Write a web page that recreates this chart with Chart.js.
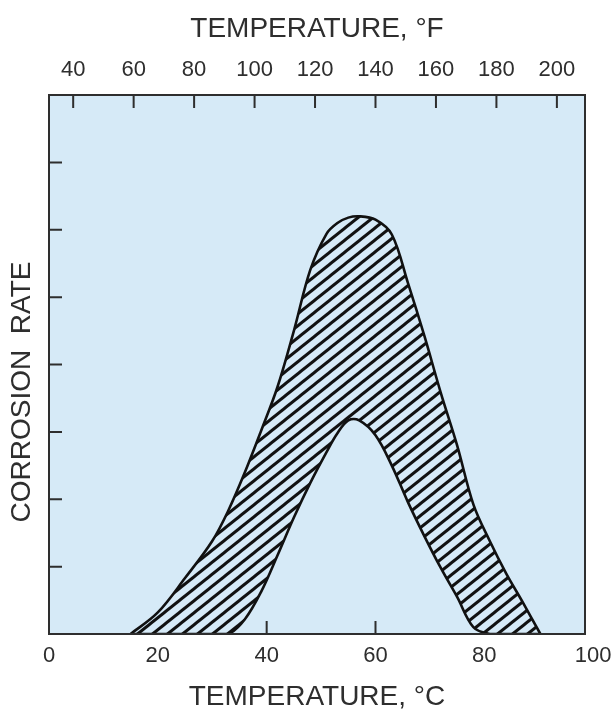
<!DOCTYPE html>
<html>
<head>
<meta charset="utf-8">
<script src="https://cdn.jsdelivr.net/npm/chart.js@4"></script>
<style>
  body { margin: 0; background: #fff; }
  canvas { display: block; }
</style>
</head>
<body>
<canvas id="chart" width="614" height="715"></canvas>
<script>
const tempC = [15, 20, 25, 30, 33, 36, 39, 42, 45, 48, 51, 53, 55, 57, 60, 63, 66, 69, 72, 75, 78, 81, 84, 87, 90.3];
// upper edge of the hatched band (relative corrosion rate, 0-8 divisions)
const upperRate = [0, 0.32, 0.83, 1.38, 1.84, 2.4, 3.02, 3.67, 4.5, 5.4, 5.94, 6.1, 6.18, 6.2, 6.15, 5.93, 5.2, 4.42, 3.58, 2.8, 1.92, 1.38, 0.9, 0.48, 0];
// lower edge of the band
const lowerRate = [0, 0, 0, 0, 0, 0.22, 0.63, 1.17, 1.73, 2.24, 2.7, 2.98, 3.17, 3.17, 2.95, 2.5, 1.95, 1.45, 0.98, 0.55, 0.1, 0, 0, 0, 0];

const cLabels = [0, 20, 40, 60, 80, 100];
const fLabels = [40, 60, 80, 100, 120, 140, 160, 180, 200];
const rateTicks = [1, 2, 3, 4, 5, 6, 7];

const BG = '#d6eaf7';
const INK = '#2e2e2e';
const LINE = '#111';
const FONT = 'Liberation Sans';
const C_MAX = 98.5;

function hatch() {
  const w = 15, h = 12;
  const c = document.createElement('canvas');
  c.width = w; c.height = h;
  const g = c.getContext('2d');
  g.fillStyle = BG;
  g.fillRect(0, 0, w, h);
  g.strokeStyle = LINE;
  g.lineWidth = 3;
  for (const dx of [-w, 0, w]) {
    g.beginPath();
    g.moveTo(dx - w, 2 * h);
    g.lineTo(dx + 2 * w, -h);
    g.stroke();
  }
  return g.createPattern(c, 'repeat');
}

const toPoints = (ys) => tempC.map((t, i) => ({ x: t, y: ys[i] }));

const plotFrame = {
  id: 'plotFrame',
  beforeDraw(chart) {
    const a = chart.chartArea, ctx = chart.ctx;
    ctx.save();
    ctx.fillStyle = BG;
    ctx.fillRect(a.left, a.top, a.right - a.left, a.bottom - a.top);
    ctx.restore();
  },
  beforeDatasetsDraw(chart) {
    const a = chart.chartArea, ctx = chart.ctx, s = chart.scales;
    const len = 13;
    ctx.save();
    ctx.strokeStyle = INK;
    ctx.lineWidth = 2;
    ctx.beginPath();
    rateTicks.forEach(v => {
      const y = s.y.getPixelForValue(v);
      ctx.moveTo(a.left, y); ctx.lineTo(a.left + len, y);
    });
    fLabels.forEach(v => {
      const x = s.x2.getPixelForValue(v);
      ctx.moveTo(x, a.top); ctx.lineTo(x, a.top + len);
    });
    cLabels.filter(v => v > 0 && v < C_MAX).forEach(v => {
      const x = s.x.getPixelForValue(v);
      ctx.moveTo(x, a.bottom); ctx.lineTo(x, a.bottom - len);
    });
    ctx.stroke();
    ctx.restore();
  },
  afterDatasetsDraw(chart) {
    const a = chart.chartArea, ctx = chart.ctx;
    ctx.save();
    ctx.strokeStyle = INK;
    ctx.lineWidth = 2;
    ctx.strokeRect(a.left, a.top, a.right - a.left, a.bottom - a.top);
    ctx.restore();
  },
  afterDraw(chart) {
    // rate axis title sits a little below the middle of the plot in the original
    const ctx = chart.ctx;
    ctx.save();
    ctx.translate(22, 392);
    ctx.rotate(-Math.PI / 2);
    ctx.fillStyle = INK;
    ctx.font = '28px "' + FONT + '"';
    ctx.textAlign = 'center';
    ctx.textBaseline = 'middle';
    ctx.fillText('CORROSION  RATE', 0, 0);
    ctx.restore();
  }
};

const noPad = (scale) => {
  scale.paddingLeft = 0; scale.paddingRight = 0;
  scale.paddingTop = 0; scale.paddingBottom = 0;
};

const edge = {
  borderColor: LINE,
  borderWidth: 2.6,
  pointRadius: 0,
  tension: 0.35
};

new Chart(document.getElementById('chart'), {
  type: 'line',
  data: {
    datasets: [
      // drawn first so the lower edge line stays on top of the hatching
      Object.assign({ data: toPoints(upperRate), backgroundColor: hatch(), fill: '+1', order: 1 }, edge),
      Object.assign({ data: toPoints(lowerRate), fill: false, order: 0 }, edge)
    ]
  },
  options: {
    responsive: false,
    animation: false,
    layout: { padding: { left: 0, right: 29, top: 0, bottom: 0 } },
    plugins: { legend: { display: false }, tooltip: { enabled: false } },
    scales: {
      x: {
        type: 'linear',
        position: 'bottom',
        min: 0,
        max: C_MAX,
        grid: { display: false, drawTicks: false },
        border: { display: false },
        afterBuildTicks: (scale) => { scale.ticks = cLabels.map(v => ({ value: v })); },
        afterFit: (scale) => { scale.height = 81; noPad(scale); },
        ticks: {
          autoSkip: false, maxRotation: 0, padding: 9,
          color: INK, font: { family: FONT, size: 22 },
          callback: (v) => String(v)
        },
        title: {
          display: true, text: 'TEMPERATURE, °C', color: INK,
          font: { family: FONT, size: 28 }, padding: { top: 0, bottom: 1 }
        }
      },
      x2: {
        type: 'linear',
        position: 'top',
        min: 32,
        max: C_MAX * 1.8 + 32,
        grid: { display: false, drawTicks: false },
        border: { display: false },
        afterBuildTicks: (scale) => { scale.ticks = fLabels.map(v => ({ value: v })); },
        afterFit: (scale) => { scale.height = 95; noPad(scale); },
        ticks: {
          autoSkip: false, maxRotation: 0, padding: 12,
          color: INK, font: { family: FONT, size: 22 },
          callback: (v) => String(v)
        },
        title: {
          display: true, text: 'TEMPERATURE, °F', color: INK,
          font: { family: FONT, size: 28 }, padding: { top: 12, bottom: 0 }
        }
      },
      y: {
        min: 0,
        max: 8,
        grid: { display: false, drawTicks: false },
        border: { display: false },
        afterFit: (scale) => { scale.width = 49; noPad(scale); },
        ticks: { display: false },
        title: { display: false }
      }
    }
  },
  plugins: [plotFrame]
});
</script>
</body>
</html>
